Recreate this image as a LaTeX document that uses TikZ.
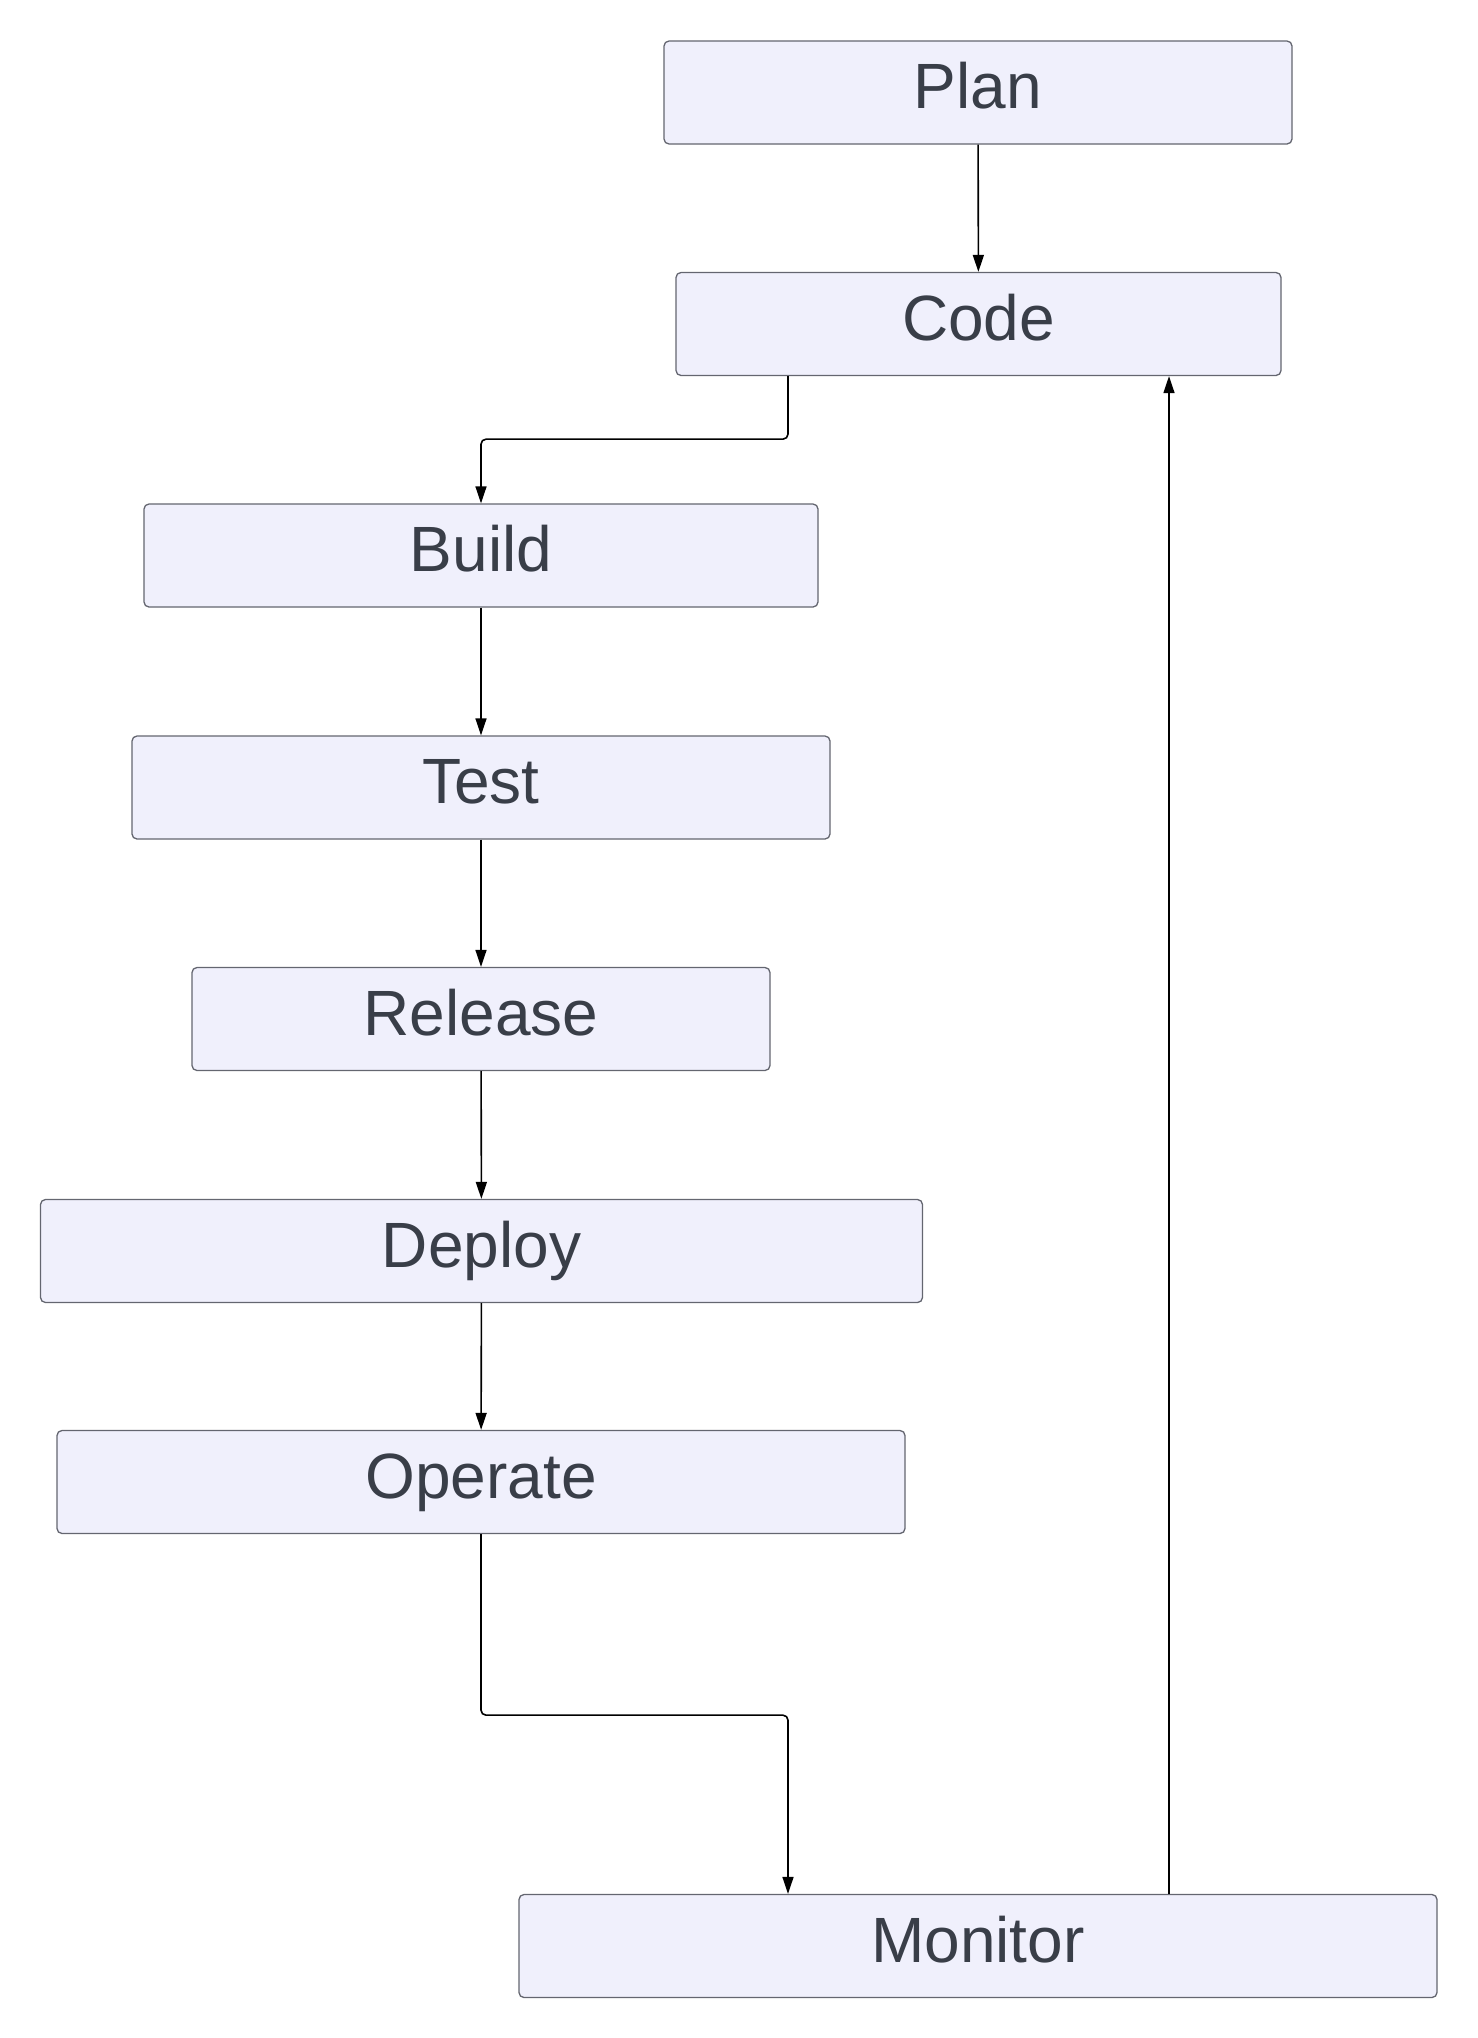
\documentclass[tikz,border=0pt]{standalone}
\usepackage{fontspec}
\setmainfont{Liberation Sans}
\usetikzlibrary{arrows.meta}
\definecolor{boxfill}{RGB}{240,240,252}
\definecolor{boxdraw}{RGB}{100,102,112}
\definecolor{txt}{RGB}{57,62,72}
\tikzset{
  stage/.style={draw=boxdraw, fill=boxfill, line width=1.3pt, rounded corners=5pt,
    minimum height=103pt, inner sep=0pt, text=txt,
    font=\fontsize{64}{76}\selectfont, text height=48pt, text depth=16pt},
  arr/.style={draw=black, line width=1.6pt, rounded corners=5pt,
    -{Triangle[length=17pt,width=11pt]}}
}
\begin{document}
\begin{tikzpicture}[x=1pt,y=-1pt]
\path[use as bounding box] (0,0) rectangle (1478,2038);
\node[stage, minimum width=628pt] (plan) at (978,92.5) {Plan};
\node[stage, minimum width=605pt] (code) at (978.5,324) {Code};
\node[stage, minimum width=674pt] (build) at (481,555.5) {Build};
\node[stage, minimum width=698pt] (test) at (481,787.5) {Test};
\node[stage, minimum width=578pt] (release) at (481,1019) {Release};
\node[stage, minimum width=882pt] (deploy) at (481.5,1251) {Deploy};
\node[stage, minimum width=848pt] (operate) at (481,1482) {Operate};
\node[stage, minimum width=918pt] (monitor) at (978,1946) {Monitor};

\draw[arr] (plan) -- (code);
\draw[arr] ([xshift=-190.5pt]code.south) -- ([xshift=-190.5pt,yshift=-63pt]code.south) -| (build.north);
\draw[arr] (build) -- (test);
\draw[arr] (test) -- (release);
\draw[arr] (release) -- (deploy);
\draw[arr] (deploy) -- (operate);
\draw[arr] (operate.south) -- ([yshift=-181pt]operate.south) -| ([xshift=-190pt]monitor.north);
\draw[arr] ([xshift=191pt]monitor.north) -- ([xshift=191pt]monitor.north |- code.south);
\end{tikzpicture}
\end{document}
